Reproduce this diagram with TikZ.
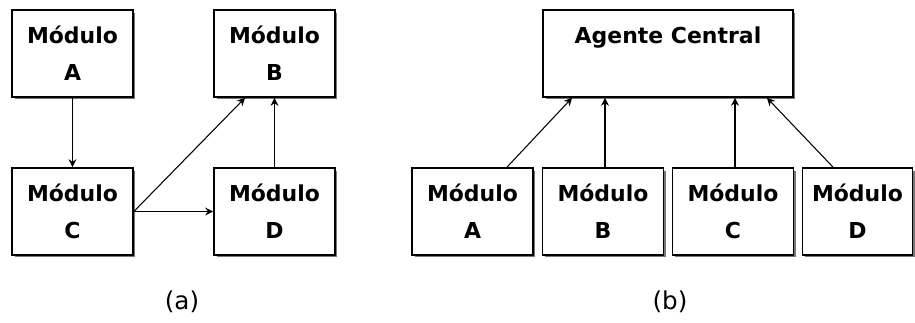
\documentclass[tikz,border=0pt]{standalone}
\usepackage{fontspec}
\setmainfont{DejaVu Sans}
\usepackage{tikz}
\usetikzlibrary{arrows.meta,shadows}
\definecolor{shadowgray}{RGB}{120,120,120}

\begin{document}
\begin{tikzpicture}[
  x=0.02cm, y=-0.02cm,
  font=\fontsize{12.5}{15}\selectfont,
  mod/.style={draw=black, line width=1pt, fill=white, minimum width=2.42cm,
              minimum height=1.74cm, inner sep=0pt, align=center,
              font=\fontsize{12.5}{15}\selectfont\bfseries,
              drop shadow={shadow xshift=0.05cm, shadow yshift=-0.05cm,
                           fill=shadowgray, opacity=1}},
  cen/.style={mod, minimum width=5cm},
  dep/.style={-{Stealth[length=4.5pt, width=4.5pt]}, line width=0.6pt},
  lbl/.style={font=\fontsize{14}{16}\selectfont},
]
\useasboundingbox (0,0) rectangle (915,323);

% ===================== (a): modules talking to each other =====================
\node[mod] (a-A) at (72.5,53.5)  {Módulo\\[6pt]A};
\node[mod] (a-B) at (274.5,53.5) {Módulo\\[6pt]B};
\node[mod] (a-C) at (72.5,211.5)  {Módulo\\[6pt]C};
\node[mod] (a-D) at (274.5,211.5) {Módulo\\[6pt]D};

\draw[dep] (a-A) -- (a-C);
\draw[dep] (a-C) -- (a-D);
\draw[dep] (a-C.east) -- ([xshift=-0.59cm]a-B.south);
\draw[dep] (a-D) -- (a-B);

\node[lbl] (lbl-a) at (182,302) {(a)};

% ===================== (b): every module reports to the central agent =====================
\node[cen] (central) at (668,53.5) {Agente Central\\[6pt]~};

\node[mod] (b-A) at (472.5,211.5) {Módulo\\[6pt]A};
\node[mod] (b-B) at (603,211.5)   {Módulo\\[6pt]B};
\node[mod] (b-C) at (733,211.5)   {Módulo\\[6pt]C};
\node[mod, minimum width=2.2cm] (b-D) at (857.5,211.5) {Módulo\\[6pt]D};

\draw[dep] ([xshift=0.69cm]b-A.north) -- ([xshift=-1.92cm]central.south);
\draw[dep] ([xshift=0.04cm]b-B.north) -- ([xshift=0.04cm]b-B.north |- central.south);
\draw[dep] ([xshift=0.04cm]b-C.north) -- ([xshift=0.04cm]b-C.north |- central.south);
\draw[dep] ([xshift=-0.49cm]b-D.north) -- ([xshift=1.98cm]central.south);

\node[lbl] (lbl-b) at (670,302) {(b)};

\end{tikzpicture}
\end{document}
